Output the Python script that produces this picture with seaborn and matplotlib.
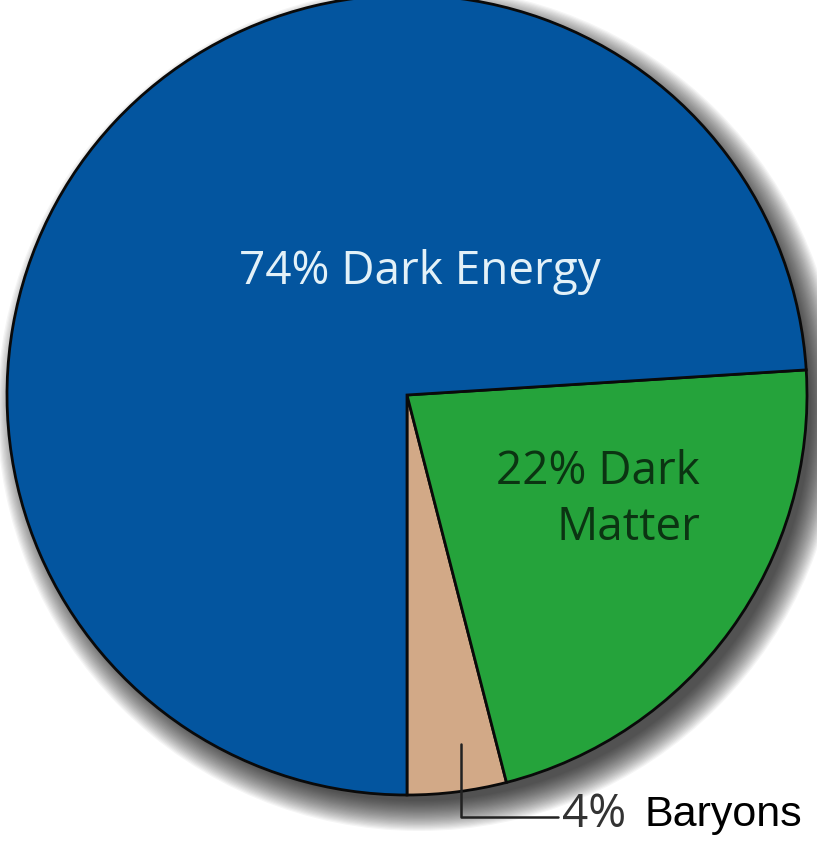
import numpy as np
import seaborn as sns
import matplotlib.pyplot as plt
from matplotlib.patches import Ellipse

labels = ['Baryons', 'Dark Matter', 'Dark Energy']
shares = [4, 22, 74]
colors = ['#d2a987', '#25a33b', '#03559f']

sns.set_theme(style="white")
plt.rcParams['font.family'] = ['Open Sans', 'DejaVu Sans']

fig = plt.figure(figsize=(8.17, 8.45), dpi=100)
ax = fig.add_axes([0, 0, 1, 1])

cx, cy, r = 407, 449, 400

# soft shadow toward the lower right
for i in range(26):
    d = 2 * r + 44 - i * 2.4
    ax.add_patch(Ellipse((cx + 12, cy - 14), d, d, color='black', alpha=0.04, lw=0, zorder=0))

wedges, _ = ax.pie(shares, colors=colors, startangle=270, counterclock=True,
                   center=(cx, cy), radius=r, frame=True,
                   wedgeprops=dict(edgecolor='#0a0a0a', linewidth=2))
ax.set_xlim(0, 817)
ax.set_ylim(0, 845)
ax.set_aspect('equal')
ax.axis('off')

ax.text(420, 845 - 272, f"{shares[2]}% Dark Energy", fontsize=33, color='#e3f1f8',
        ha='center', va='center')
ax.text(700, 845 - 500, f"{shares[1]}% Dark\nMatter", fontsize=33, color='#0b3412',
        ha='right', va='center', linespacing=1.3)

# leader for the baryon slice
w = wedges[0]
mid = np.deg2rad((w.theta1 + w.theta2) / 2)
px, py = cx + 0.88 * r * np.cos(mid), cy + 0.88 * r * np.sin(mid)
ax.annotate('', xy=(px + 10, py), xytext=(558, 845 - 818),
            arrowprops=dict(arrowstyle='-', color='#222222', lw=1.8,
                            connectionstyle='angle,angleA=0,angleB=90,rad=0',
                            shrinkA=0, shrinkB=0))
ax.text(562, 845 - 815, f"{shares[0]}%", fontsize=33, color='#333333', ha='left', va='center')
ax.text(645, 845 - 815, labels[0], fontsize=31, color='black', ha='left', va='center',
        family=['Liberation Sans', 'DejaVu Sans'],
        bbox=dict(facecolor='white', edgecolor='none', pad=1))

fig.savefig('out.png', dpi=100)
